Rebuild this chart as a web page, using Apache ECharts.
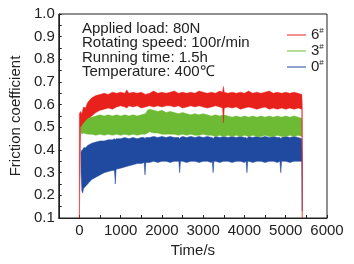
<!DOCTYPE html>
<html lang="en" style="height: 100%">
<head>
<meta charset="utf-8">
<title>Friction coefficient vs time</title>
</head>
<body style="height: 100%; margin: 0; background: #fff">
<div id="container" style="width: 354px; height: 264px"></div>

<script type="text/javascript" src="https://cdn.jsdelivr.net/npm/echarts/dist/echarts.min.js"></script>

<script type="text/javascript">

// Sample 6#: band (upper / lower edge of the noisy trace)
var t6 = [0, 30, 60, 100, 150, 200,
    300, 400, 500, 600, 700, 800, 900, 1000, 1100,
    1150,
    1200, 1300, 1400, 1500, 1600, 1700, 1800, 1900, 2000, 2100, 2200, 2300, 2400, 2500, 2600, 2700, 2800, 2900, 3000, 3100, 3200, 3300, 3400,
    3470, 3490, 3510,
    3600, 3700, 3800, 3900, 4000, 4100, 4200, 4300, 4400, 4500, 4600, 4700, 4800, 4900, 5000, 5100, 5200, 5300,
    5390, 5400];
var hi6 = [0.56, 0.57, 0.56, 0.59, 0.585, 0.61,
    0.63, 0.64, 0.645, 0.65, 0.645, 0.655, 0.65, 0.655, 0.65,
    0.665,
    0.65, 0.655, 0.65, 0.655, 0.645, 0.65, 0.66, 0.65, 0.655, 0.65, 0.655, 0.66, 0.65, 0.655, 0.65, 0.655, 0.65, 0.66, 0.655, 0.65, 0.655, 0.65, 0.66,
    0.655, 0.68, 0.655,
    0.65, 0.655, 0.65, 0.655, 0.65, 0.66, 0.65, 0.655, 0.65, 0.655, 0.66, 0.65, 0.655, 0.65, 0.655, 0.65, 0.655, 0.65,
    0.645, 0.60];
var lo6 = [0.10, 0.50, 0.51, 0.52, 0.53, 0.54,
    0.55, 0.565, 0.575, 0.58, 0.585, 0.58, 0.59, 0.595, 0.59,
    0.585,
    0.595, 0.59, 0.595, 0.585, 0.59, 0.595, 0.59, 0.595, 0.59, 0.595, 0.595, 0.59, 0.595, 0.585, 0.59, 0.595, 0.59, 0.595, 0.59, 0.585, 0.59, 0.595, 0.59,
    0.585, 0.52, 0.585,
    0.59, 0.585, 0.59, 0.58, 0.585, 0.59, 0.585, 0.58, 0.585, 0.59, 0.58, 0.585, 0.58, 0.585, 0.58, 0.585, 0.58, 0.585,
    0.58, 0.10];

// Sample 3#
var t3 = [40, 60, 100,
    200, 300, 400, 500, 600, 700, 800, 900, 1000, 1100, 1200, 1300, 1400, 1500, 1600,
    1650,
    1700, 1800, 1900, 2000, 2100, 2200, 2300, 2400, 2500, 2600, 2700, 2800, 2900, 3000, 3100, 3200, 3300, 3400, 3500,
    3600, 3700, 3800, 3900, 4000, 4100, 4200, 4300, 4400, 4500, 4600, 4700, 4800, 4900, 5000, 5100, 5200, 5300,
    5390];
var hi3 = [0.54, 0.55, 0.545,
    0.55, 0.545, 0.55, 0.555, 0.55, 0.555, 0.55, 0.555, 0.55, 0.555, 0.55, 0.555, 0.55, 0.555, 0.56,
    0.575,
    0.58, 0.575, 0.57, 0.575, 0.565, 0.57, 0.565, 0.56, 0.565, 0.56, 0.555, 0.56, 0.555, 0.56, 0.555, 0.55, 0.555, 0.55, 0.555,
    0.55, 0.545, 0.55, 0.545, 0.55, 0.545, 0.55, 0.545, 0.55, 0.545, 0.55, 0.545, 0.55, 0.545, 0.55, 0.545, 0.55, 0.545,
    0.54];
var lo3 = [0.48, 0.47, 0.475,
    0.47, 0.47, 0.465, 0.47, 0.465, 0.47, 0.465, 0.47, 0.465, 0.47, 0.465, 0.47, 0.465, 0.47, 0.47,
    0.475,
    0.48, 0.475, 0.475, 0.47, 0.47, 0.47, 0.47, 0.465, 0.47, 0.465, 0.47, 0.465, 0.465, 0.47, 0.465, 0.465, 0.46, 0.465, 0.46,
    0.465, 0.46, 0.465, 0.46, 0.465, 0.46, 0.465, 0.46, 0.46, 0.465, 0.46, 0.46, 0.465, 0.46, 0.46, 0.465, 0.46, 0.465,
    0.46];

// Sample 0#
var t0 = [40, 60, 80, 100, 150, 200,
    300, 400, 500, 600, 700, 800,
    850, 870, 890,
    1000, 1100, 1200, 1300, 1400, 1500,
    1570, 1590, 1610,
    1700, 1800, 1900, 2000, 2100, 2200, 2300,
    2410, 2430, 2450,
    2500, 2600, 2700, 2800, 2900, 3000, 3100, 3200,
    3220, 3240, 3260,
    3300, 3400, 3500, 3600, 3700, 3800, 3900, 4000,
    4040, 4060, 4080,
    4100, 4200, 4300, 4400, 4500, 4600, 4700, 4800,
    4860, 4880, 4900,
    5000, 5100, 5200, 5300, 5390, 5400];
var hi0 = [0.39, 0.40, 0.40, 0.41, 0.41, 0.42,
    0.43, 0.435, 0.44, 0.44, 0.445, 0.445,
    0.45, 0.445, 0.45,
    0.45, 0.455, 0.45, 0.455, 0.45, 0.455,
    0.455, 0.45, 0.455,
    0.455, 0.46, 0.455, 0.46, 0.455, 0.46, 0.455,
    0.455, 0.45, 0.455,
    0.46, 0.455, 0.46, 0.455, 0.46, 0.455, 0.46, 0.455,
    0.455, 0.45, 0.455,
    0.46, 0.455, 0.46, 0.455, 0.46, 0.455, 0.46, 0.455,
    0.455, 0.45, 0.455,
    0.46, 0.455, 0.46, 0.455, 0.46, 0.455, 0.46, 0.455,
    0.455, 0.45, 0.455,
    0.46, 0.455, 0.46, 0.455, 0.45, 0.36];
var lo0 = [0.30, 0.22, 0.21, 0.23, 0.24, 0.25,
    0.27, 0.28, 0.29, 0.30, 0.305, 0.31,
    0.31, 0.25, 0.315,
    0.32, 0.325, 0.33, 0.335, 0.34, 0.34,
    0.345, 0.29, 0.345,
    0.345, 0.35, 0.345, 0.35, 0.35, 0.345, 0.35,
    0.35, 0.30, 0.35,
    0.35, 0.345, 0.35, 0.35, 0.345, 0.35, 0.35, 0.345,
    0.35, 0.30, 0.35,
    0.35, 0.345, 0.35, 0.35, 0.345, 0.35, 0.35, 0.345,
    0.35, 0.30, 0.35,
    0.35, 0.345, 0.35, 0.35, 0.345, 0.35, 0.35, 0.345,
    0.35, 0.30, 0.35,
    0.35, 0.345, 0.35, 0.35, 0.35, 0.13];

var notes = ['Applied load: 80N', 'Rotating speed: 100r/min', 'Running time: 1.5h', 'Temperature: 400\u2103'];

var font = '"Liberation Sans", Arial, sans-serif';

// one filled polygon per sample: upper edge left to right, lower edge back
function band(name, t, hi, lo, color) {
    return {
        name: name,
        type: 'custom',
        silent: true,
        clip: true,
        itemStyle: { color: color, borderWidth: 0 },
        data: t.map(function (x, i) { return [x, hi[i], lo[i]]; }),
        renderItem: function (params, api) {
            if (params.dataIndex !== 0) return null;
            var pts = [], i;
            for (i = 0; i < t.length; i++) pts.push(api.coord([t[i], hi[i]]));
            for (i = t.length - 1; i >= 0; i--) pts.push(api.coord([t[i], lo[i]]));
            return {
                type: 'polygon',
                shape: { points: pts },
                style: { fill: color, stroke: color, lineWidth: 0.5 }
            };
        }
    };
}

var dom = document.getElementById('container');
var myChart = echarts.init(dom);

var option = {
    animation: false,
    grid: {
        left: 56, right: 27, top: 14, bottom: 46,
        show: true, borderColor: '#222', borderWidth: 1
    },
    legend: {
        data: ['6#', '3#', '0#'],
        orient: 'vertical',
        left: 282, top: 22,
        icon: 'rect',
        itemWidth: 19, itemHeight: 1,
        itemGap: 0,
        itemStyle: { borderWidth: 0, borderColor: 'transparent' },
        textStyle: {
            fontFamily: font, fontSize: 15, color: '#222', lineHeight: 16,
            rich: { s: { fontFamily: font, fontSize: 8, lineHeight: 16, verticalAlign: 'top', padding: [0, 0, 5, 0] } }
        },
        formatter: function (name) { return name.charAt(0) + '{s|#}'; }
    },
    graphic: [{
        type: 'text',
        left: 82, top: 21,
        z: 10,
        silent: true,
        style: {
            text: notes.join('\n'),
            font: '15px ' + font,
            lineHeight: 14.5,
            fill: '#222'
        }
    }],
    xAxis: {
        type: 'value',
        min: -500, max: 6000, interval: 500,
        name: 'Time/s',
        nameLocation: 'middle',
        nameGap: 24,
        nameTextStyle: { fontFamily: font, fontSize: 15, color: '#222' },
        axisLine: { onZero: false, lineStyle: { color: '#222' } },
        axisTick: { inside: true, length: 3, lineStyle: { color: '#222' } },
        axisLabel: {
            fontFamily: font, fontSize: 15, color: '#222', margin: 5,
            formatter: function (v) { return (v >= 0 && v % 1000 === 0) ? String(v) : ''; }
        },
        splitLine: { show: false }
    },
    yAxis: {
        type: 'value',
        min: 0.1, max: 1.0, interval: 0.05,
        name: 'Friction coefficient',
        nameLocation: 'middle',
        nameGap: 33,
        nameTextStyle: { fontFamily: font, fontSize: 15, color: '#222' },
        axisLine: { show: true, onZero: false, lineStyle: { color: '#222' } },
        axisTick: { show: true, inside: true, length: 3, lineStyle: { color: '#222' } },
        axisLabel: {
            fontFamily: font, fontSize: 15, color: '#222', margin: 4,
            formatter: function (v) {
                var k = Math.round(v * 100);
                return k % 10 === 0 ? (k / 100).toFixed(1) : '';
            }
        },
        splitLine: { show: false }
    },
    series: [
        band('0#', t0, hi0, lo0, '#1f4aa0'),
        band('3#', t3, hi3, lo3, '#6dba35'),
        band('6#', t6, hi6, lo6, '#e8211d')
    ]
};

if (option && typeof option === 'object') {
    myChart.setOption(option);
}

window.addEventListener('resize', myChart.resize);
</script>
</body>
</html>
